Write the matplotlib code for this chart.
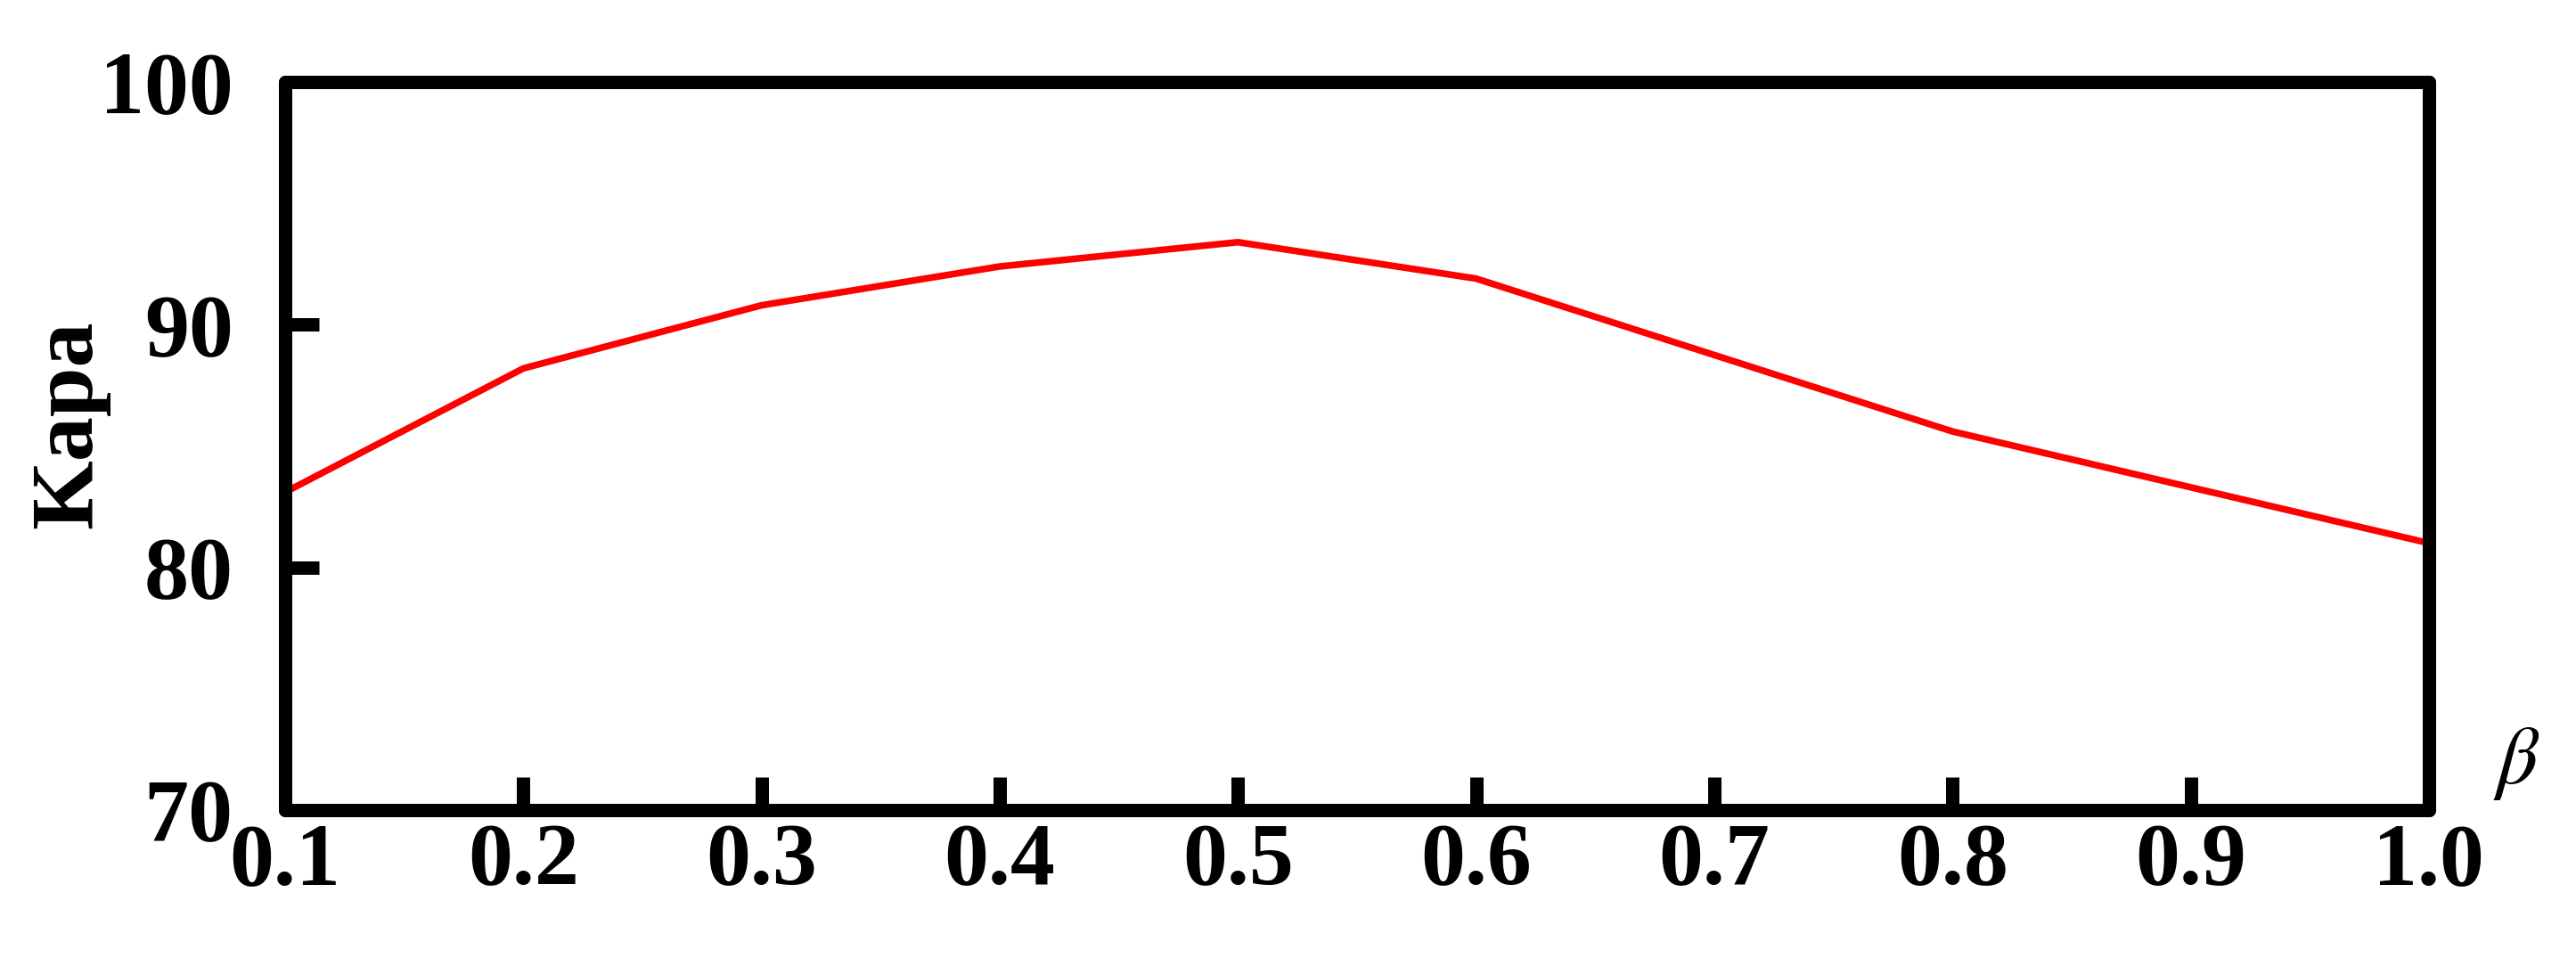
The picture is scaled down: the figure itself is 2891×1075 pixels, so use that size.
import matplotlib
matplotlib.use("Agg")
import matplotlib.pyplot as plt

# beta values and Kapa scores
beta = [0.1, 0.2, 0.3, 0.4, 0.5, 0.6, 0.8, 1.0]
kapa = [83.1, 88.2, 90.8, 92.4, 93.4, 91.9, 85.6, 81.0]

xTicks = [0.1, 0.2, 0.3, 0.4, 0.5, 0.6, 0.7, 0.8, 0.9, 1.0]
xTickLabels = ['0.1', '0.2', '0.3', '0.4', '0.5', '0.6', '0.7', '0.8', '0.9', '1.0']
yTicks = [70, 80, 90, 100]
yTickLabels = ['70', '80', '90', '100']

plt.rcParams['font.family'] = 'Liberation Serif'
plt.rcParams['mathtext.fontset'] = 'stix'

fig = plt.figure(figsize=(2891 / 300, 1075 / 300), dpi=300)
ax = fig.add_axes([0.1107, 0.1544, 0.8322, 0.76])

ax.plot(beta, kapa, color='#ff0000', linewidth=1.8, solid_joinstyle='miter')

ax.set_xlim(0.1, 1.0)
ax.set_ylim(70, 100)
ax.set_xticks(xTicks)
ax.set_xticklabels(xTickLabels, fontsize=24, fontweight='bold')
ax.set_yticks(yTicks)
ax.set_yticklabels(yTickLabels, fontsize=24, fontweight='bold')

ax.tick_params(axis='x', direction='in', length=9, width=3.6, pad=3.5, color='black')
ax.tick_params(axis='y', direction='in', length=9, width=3.6, pad=14, color='black')

for side in ['left', 'right', 'top', 'bottom']:
    ax.spines[side].set_linewidth(3.6)
    ax.spines[side].set_capstyle('round')

ax.set_ylabel('Kapa', fontsize=24, fontweight='bold')
ax.yaxis.set_label_coords(-0.082, 0.53)

fig.text(0.977, 0.203, r'$\beta$', fontsize=22, ha='center', va='center')

fig.savefig('out.png', dpi=300)
